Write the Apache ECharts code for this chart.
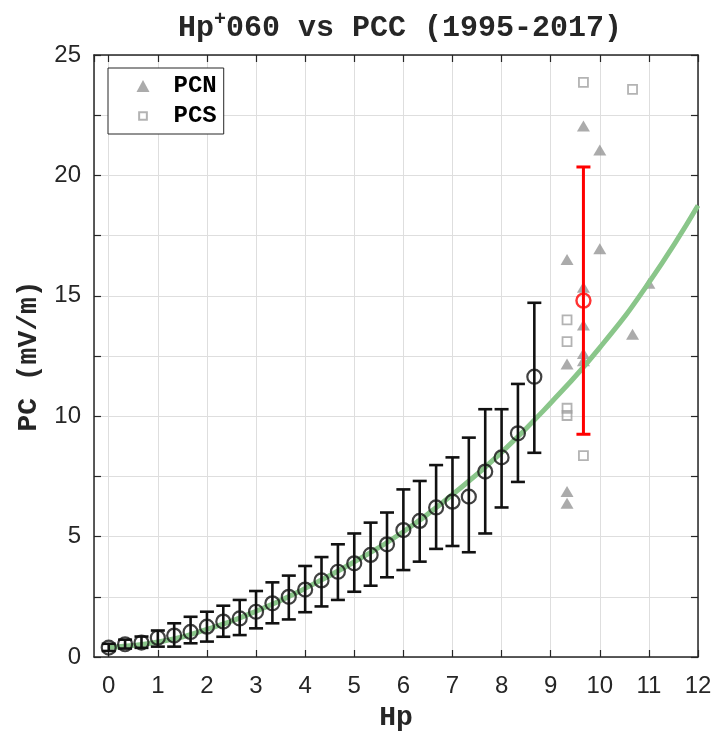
<!DOCTYPE html>
<html>
<head>
<meta charset="utf-8">
<script src="https://cdn.jsdelivr.net/npm/echarts@6/dist/echarts.min.js"></script>
<style>
  html, body { margin: 0; padding: 0; background: #fff; }
  #chart { width: 721px; height: 734px; }
</style>
</head>
<body>
<div id="chart"></div>
<script>
// binned means (black) with error bars
var hpBins = [0, 0.333, 0.667, 1, 1.333, 1.667, 2, 2.333, 2.667, 3, 3.333, 3.667, 4, 4.333,
  4.667, 5, 5.333, 5.667, 6, 6.333, 6.667, 7, 7.333, 7.667, 8, 8.333, 8.667]
var pcMean = [0.39, 0.53, 0.6, 0.8, 0.89, 1.04, 1.26, 1.47, 1.6, 1.88, 2.23, 2.5, 2.8, 3.18,
  3.54, 3.89, 4.24, 4.68, 5.27, 5.65, 6.21, 6.45, 6.66, 7.7, 8.29, 9.29, 11.64]
var pcLow = [0.25, 0.35, 0.38, 0.43, 0.43, 0.57, 0.64, 0.84, 0.91, 1.19, 1.4, 1.56, 1.86, 2.1,
  2.37, 2.71, 2.96, 3.31, 3.61, 3.96, 4.49, 4.61, 4.35, 5.13, 6.21, 7.27, 8.48]
var pcHigh = [0.55, 0.72, 0.85, 1.1, 1.4, 1.67, 1.88, 2.13, 2.37, 2.74, 3.1, 3.38, 3.78, 4.15,
  4.68, 5.13, 5.58, 6.0, 6.96, 7.31, 7.97, 8.29, 9.11, 10.29, 10.29, 11.34, 14.71]

// high Hp bin (red)
var redHp = [9.667]
var redMean = [14.8]
var redLow = [9.25]
var redHigh = [20.35]

// individual events
var pcnHp = [9.333, 9.333, 9.333, 9.333, 9.667, 9.667, 9.667, 9.667, 9.667, 10, 10, 10.667, 11]
var pcnVal = [6.38, 6.87, 12.17, 16.51, 12.3, 12.6, 13.79, 15.35, 22.05, 16.95, 21.05, 13.4, 15.52]
var pcsHp = [9.333, 9.333, 9.333, 9.333, 9.667, 9.667, 10.667]
var pcsVal = [10.03, 10.33, 13.1, 14.0, 8.36, 23.86, 23.57]

// fitted curve (green)
var fitHp = [0, 1, 2, 3, 4, 5, 6, 7, 8, 9, 10, 11, 12]
var fitPc = [0.4, 0.62, 1.15, 1.9, 2.85, 3.95, 5.2, 6.75, 8.5, 10.55, 12.85, 15.55, 18.75]

var monoFont = 'Liberation Mono'
var tickFont = 'Liberation Sans'
var axisColor = '#262626'

function zip(xs, ys) {
  return xs.map(function (x, i) { return [x, ys[i]] })
}
function zip3(xs, a, b) {
  return xs.map(function (x, i) { return [x, a[i], b[i]] })
}

// error bar drawn through the axis scales
function errorBar(color, lw, capW) {
  return function (params, api) {
    var x = api.value(0)
    var pLo = api.coord([x, api.value(1)])
    var pHi = api.coord([x, api.value(2)])
    var style = { stroke: color, lineWidth: lw }
    return {
      type: 'group',
      children: [
        { type: 'line', shape: { x1: pLo[0], y1: pLo[1], x2: pHi[0], y2: pHi[1] }, style: style },
        { type: 'line', shape: { x1: pLo[0] - capW, y1: pLo[1], x2: pLo[0] + capW, y2: pLo[1] }, style: style },
        { type: 'line', shape: { x1: pHi[0] - capW, y1: pHi[1], x2: pHi[0] + capW, y2: pHi[1] }, style: style }
      ]
    }
  }
}

var myChart = echarts.init(document.getElementById('chart'))

var xCommon = {
  type: 'value',
  min: -0.3,
  max: 12,
  splitNumber: 12
}

var option = {
  animation: false,
  backgroundColor: '#fff',
  title: {
    text: '{n|Hp}{s|+}{n|060 vs PCC (1995-2017)}',
    left: 395,
    top: 5,
    textAlign: 'center',
    textStyle: {
      rich: {
        n: { fontFamily: monoFont, fontWeight: 'bold', fontSize: 30, color: axisColor, lineHeight: 36 },
        s: { fontFamily: monoFont, fontWeight: 'bold', fontSize: 20, color: axisColor, verticalAlign: 'top', lineHeight: 36, padding: [0, 0, 14, 0] }
      }
    }
  },
  legend: {
    data: [
      { name: 'PCN' },
      // smaller square inside the same icon box
      { name: 'PCS', icon: 'path://M0,0M2.5,2.5h9v9h-9zM14,14' }
    ],
    orient: 'vertical',
    left: 108,
    top: 68,
    padding: [6, 7, 6, 28],
    itemWidth: 13,
    itemHeight: 12,
    itemGap: 6,
    symbolKeepAspect: true,
    backgroundColor: '#fff',
    borderColor: '#262626',
    borderWidth: 1,
    borderRadius: 0,
    textStyle: { fontFamily: monoFont, fontWeight: 'bold', fontSize: 24, color: '#000', lineHeight: 24, padding: [0, 0, 0, 19] }
  },
  grid: { left: 94, right: 23, top: 55, bottom: 77, containLabel: false, outerBoundsMode: 'none' },
  xAxis: [
    Object.assign({}, xCommon, {
      position: 'bottom',
      name: 'Hp',
      nameLocation: 'middle',
      nameGap: 47,
      nameTextStyle: { fontFamily: monoFont, fontWeight: 'bold', fontSize: 28, color: axisColor },
      axisLine: { show: true, onZero: false, lineStyle: { color: axisColor, width: 1.5 } },
      axisTick: { show: true, inside: true, length: 7, lineStyle: { color: axisColor, width: 1.2 } },
      axisLabel: { showMinLabel: false, fontFamily: tickFont, fontSize: 24, color: axisColor, margin: 17 },
      splitLine: { show: true, lineStyle: { color: '#dedede', width: 1 } }
    }),
    Object.assign({}, xCommon, {
      position: 'top',
      axisLine: { show: true, onZero: false, lineStyle: { color: axisColor, width: 1.5 } },
      axisTick: { show: true, inside: true, length: 7, lineStyle: { color: axisColor, width: 1.2 } },
      axisLabel: { show: false },
      splitLine: { show: false }
    })
  ],
  yAxis: [
    {
      type: 'value',
      position: 'left',
      min: 0,
      max: 25,
      interval: 2.5,
      name: 'PC (mV/m)',
      nameLocation: 'middle',
      nameRotate: 90,
      nameGap: 51,
      nameTextStyle: { fontFamily: monoFont, fontWeight: 'bold', fontSize: 28, color: axisColor },
      axisLine: { show: true, onZero: false, lineStyle: { color: axisColor, width: 1.5 } },
      axisTick: { show: true, inside: true, length: 7, lineStyle: { color: axisColor, width: 1.2 } },
      axisLabel: {
        fontFamily: tickFont, fontSize: 24, color: axisColor, margin: 13,
        formatter: function (v) { return v % 5 === 0 ? String(v) : '' }
      },
      splitLine: { show: true, lineStyle: { color: '#dedede', width: 1 } }
    },
    {
      type: 'value',
      position: 'right',
      min: 0,
      max: 25,
      interval: 2.5,
      axisLine: { show: true, onZero: false, lineStyle: { color: axisColor, width: 1.5 } },
      axisTick: { show: true, inside: true, length: 7, lineStyle: { color: axisColor, width: 1.2 } },
      axisLabel: { show: false },
      splitLine: { show: false }
    }
  ],
  series: [
    {
      name: 'PCN',
      type: 'scatter',
      symbol: 'triangle',
      symbolSize: [13, 11],
      itemStyle: { color: '#969696' },
      data: zip(pcnHp, pcnVal),
      z: 2
    },
    {
      name: 'PCS',
      type: 'scatter',
      symbol: 'rect',
      symbolSize: 9,
      itemStyle: { color: 'rgba(255,255,255,0)', borderColor: '#a0a0a0', borderWidth: 1.8 },
      data: zip(pcsHp, pcsVal),
      z: 2
    },
    {
      name: 'fit',
      type: 'line',
      smooth: true,
      symbol: 'none',
      lineStyle: { color: '#8ac68a', width: 5 },
      data: zip(fitHp, fitPc),
      z: 3
    },
    {
      name: 'binErr',
      type: 'custom',
      renderItem: errorBar('#111', 2.6, 7),
      encode: { x: 0, y: [1, 2] },
      data: zip3(hpBins, pcLow, pcHigh),
      z: 4
    },
    {
      name: 'binMean',
      type: 'scatter',
      symbol: 'circle',
      symbolSize: 14,
      itemStyle: { color: 'rgba(255,255,255,0)', borderColor: '#111', borderWidth: 2.2 },
      data: zip(hpBins, pcMean),
      z: 5
    },
    {
      name: 'highErr',
      type: 'custom',
      renderItem: errorBar('#ff0000', 3, 7),
      encode: { x: 0, y: [1, 2] },
      data: zip3(redHp, redLow, redHigh),
      z: 6
    },
    {
      name: 'highMean',
      type: 'scatter',
      symbol: 'circle',
      symbolSize: 14,
      itemStyle: { color: 'rgba(255,255,255,0)', borderColor: '#ff0000', borderWidth: 2.4 },
      data: zip(redHp, redMean),
      z: 7
    }
  ]
}

myChart.setOption(option)
</script>
</body>
</html>
